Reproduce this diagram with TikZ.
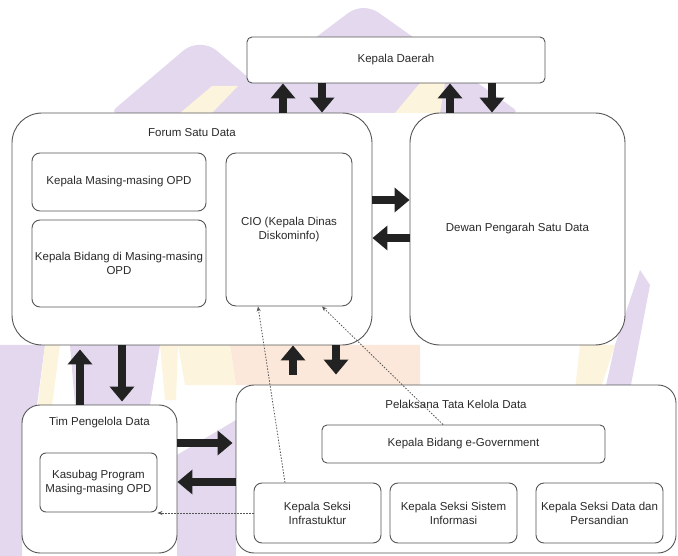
\documentclass[tikz,border=0pt]{standalone}
\usepackage{fontspec}
\setmainfont{Liberation Sans}
\usetikzlibrary{arrows.meta}
\definecolor{ln}{HTML}{555555}
\definecolor{tx}{HTML}{2A2A2A}
\definecolor{ar}{HTML}{222222}
\definecolor{wmp}{HTML}{E3D8ED}
\definecolor{wmy}{HTML}{FCF4DC}
\definecolor{wmo}{HTML}{FBE8DA}
\begin{document}
\begin{tikzpicture}[x=1pt,y=-1pt,
 box/.style={draw=ln, line width=0.9pt, fill=white, rounded corners=#1, inner sep=1pt},
 lbl/.style={font=\fontsize{11.5}{14}\selectfont, text=tx, align=center},
 blk/.style={draw=ar, line width=8pt, -{Triangle[width=24pt,length=15pt]}},
 dotarrow/.style={draw=ln, line width=0.8pt, dash pattern=on 1.5pt off 1.5pt, -{Stealth[length=5pt,width=4pt]}}
]
\useasboundingbox (0,0) rectangle (678,556);
\fill[white] (0,0) rectangle (678,556);
% watermark
\fill[wmp, rounded corners=8pt] (110,113) -- (190,45) -- (210,45) -- (290,113) -- cycle;
\fill[wmy] (180,113) -- (212,86) -- (238,86) -- (212,113) -- cycle;
\fill[wmp, rounded corners=8pt] (215,113) -- (355,8) -- (372,8) -- (520,113) -- cycle;
\fill[wmy] (395,113) -- (420,83) -- (445,83) -- (440,113) -- cycle;
\fill[wmo] (230,345) -- (420,345) -- (420,385) -- (236,385) -- cycle;
\fill[wmy] (178,345) -- (230,345) -- (236,385) -- (185,385) -- cycle;
\fill[wmp] (0,345) -- (45,345) -- (35,420) -- (22,440) -- (22,556) -- (0,556) -- cycle;
\fill[wmy] (45,345) -- (60,345) -- (52,405) -- (38,405) -- cycle;
\fill[wmp] (70,345) -- (160,345) -- (150,405) -- (75,405) -- cycle;
\fill[wmy] (160,345) -- (178,345) -- (176,400) -- (165,400) -- cycle;
\fill[wmp] (177,455) -- (236,420) -- (236,556) -- (177,556) -- cycle;
\fill[wmy] (580,345) -- (615,345) -- (600,390) -- (575,390) -- cycle;
\fill[wmp] (615,345) -- (640,270) -- (650,285) -- (630,390) -- (605,390) -- cycle;
% boxes
\node[box=5pt, minimum width=298pt, minimum height=46pt, lbl] (kd) at (396,60) {Kepala Daerah};
\node[box=30pt, minimum width=360pt, minimum height=232pt] (forum) at (192,229) {};
\node[lbl] (forumlbl) at (192,133) {Forum Satu Data};
\node[box=8pt, minimum width=174pt, minimum height=58pt, lbl] (opd) at (119,182) {Kepala Masing-masing OPD};
\node[box=8pt, minimum width=174pt, minimum height=87pt, lbl] (bid) at (119,263.5) {Kepala Bidang di Masing-masing\\OPD};
\node[box=10pt, minimum width=126pt, minimum height=153pt, lbl] (cio) at (289,229.5) {CIO (Kepala Dinas\\Diskominfo)};
\node[box=30pt, minimum width=215pt, minimum height=232pt, lbl] (dewan) at (517.5,229) {Dewan Pengarah Satu Data};
\node[box=18pt, minimum width=155pt, minimum height=148pt] (tim) at (99.5,479) {};
\node[lbl] (timlbl) at (99.5,423) {Tim Pengelola Data};
\node[box=6pt, minimum width=117pt, minimum height=59pt, lbl] (kas) at (98.5,482.5) {Kasubag Program\\Masing-masing OPD};
\node[box=18pt, minimum width=440pt, minimum height=168pt] (pel) at (456,469) {};
\node[lbl] (pellbl) at (456,404) {Pelaksana Tata Kelola Data};
\node[box=5pt, minimum width=283pt, minimum height=38pt, lbl] (egov) at (463.5,444) {Kepala Bidang e-Government};
\node[box=8pt, minimum width=127pt, minimum height=60pt, lbl] (infra) at (317.5,513) {Kepala Seksi\\Infrastuktur};
\node[box=8pt, minimum width=127pt, minimum height=60pt, lbl] (si) at (453.5,513) {Kepala Seksi Sistem\\Informasi};
\node[box=8pt, minimum width=127pt, minimum height=60pt, lbl] (pers) at (599.5,513) {Kepala Seksi Data dan\\Persandian};
% block arrows
\draw[blk] ([xshift=91pt]forum.north) -- ([xshift=-113pt]kd.south);
\draw[blk] ([xshift=-74pt]kd.south) -- ([xshift=130pt]forum.north);
\draw[blk] ([xshift=-67.5pt]dewan.north) -- ([xshift=54pt]kd.south);
\draw[blk] ([xshift=96pt]kd.south) -- ([xshift=-25.5pt]dewan.north);
\draw[blk] ([yshift=29pt]forum.east) -- ([yshift=29pt]dewan.west);
\draw[blk] ([yshift=-9pt]dewan.west) -- ([yshift=-9pt]forum.east);
\draw[blk, shorten >=4pt] ([xshift=-19.5pt]tim.north) -- ([xshift=-112pt]forum.south);
\draw[blk, shorten >=3pt] ([xshift=-70pt]forum.south) -- ([xshift=22.5pt]tim.north);
\draw[blk, shorten <=10pt] ([xshift=-163pt]pel.north) -- ([xshift=101pt]forum.south);
\draw[blk, shorten >=10pt] ([xshift=144pt]forum.south) -- ([xshift=-120pt]pel.north);
\draw[blk, shorten >=3pt] ([yshift=36pt]tim.east) -- ([yshift=26pt]pel.west);
\draw[blk] ([yshift=-13pt]pel.west) -- ([yshift=-3pt]tim.east);
% dotted arrows
\draw[dotarrow] ([xshift=-32.5pt]infra.north) -- ([xshift=-31pt]cio.south);
\draw[dotarrow] ([xshift=-20.5pt]egov.north) -- ([xshift=33pt]cio.south);
\draw[dotarrow] (infra.west) -- (kas.east |- infra.west);
\end{tikzpicture}
\end{document}
